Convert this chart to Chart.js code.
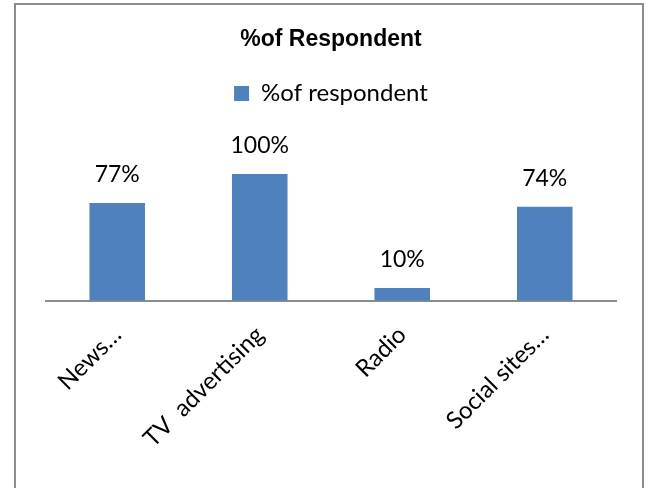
<!DOCTYPE html>
<html>
<head>
<meta charset="utf-8">
<script src="https://cdn.jsdelivr.net/npm/chart.js@4"></script>
<style>
  html, body { margin: 0; padding: 0; background: #fff; }
  #wrap { width: 648px; height: 488px; position: relative; }
</style>
</head>
<body>
<div id="wrap"><canvas id="c" width="648" height="488"></canvas></div>
<script>
const categories = ["News…", "TV  advertising", "Radio", "Social sites…"];
const respondentPct = [77, 100, 10, 74];
const seriesName = "%of respondent";
const chartTitle = "%of Respondent";

// Grey frame around the whole chart
const framePlugin = {
  id: 'frame',
  beforeDraw(chart) {
    const ctx = chart.ctx;
    ctx.save();
    ctx.strokeStyle = '#8c8c8c';
    ctx.lineWidth = 2;
    ctx.strokeRect(15, 4, 628, 500);
    ctx.restore();
  }
};

// Value labels above each bar
const valueLabels = {
  id: 'valueLabels',
  afterDatasetsDraw(chart) {
    const ctx = chart.ctx;
    const meta = chart.getDatasetMeta(0);
    ctx.save();
    ctx.font = '23px Lato';
    ctx.fillStyle = '#000';
    ctx.textAlign = 'center';
    ctx.textBaseline = 'middle';
    meta.data.forEach((bar, i) => {
      ctx.fillText(respondentPct[i] + '%', bar.x, bar.y - 28);
    });
    ctx.restore();
  }
};

new Chart(document.getElementById('c'), {
  type: 'bar',
  data: {
    labels: categories,
    datasets: [{
      label: seriesName,
      data: respondentPct,
      backgroundColor: '#4F81BD',
      borderWidth: 0,
      barPercentage: 0.39,
      categoryPercentage: 1.0
    }]
  },
  options: {
    responsive: false,
    animation: false,
    layout: { padding: { top: 5, left: 46, right: 32, bottom: 23 } },
    plugins: {
      title: {
        display: true,
        text: chartTitle,
        color: '#000',
        font: { family: 'Liberation Sans', size: 23, weight: 'bold' },
        padding: { top: 21, bottom: 18 }
      },
      legend: {
        display: true,
        labels: {
          color: '#000',
          font: { family: 'Lato', size: 24 },
          boxWidth: 15,
          boxHeight: 15,
          padding: 10
        }
      },
      tooltip: { enabled: false }
    },
    scales: {
      x: {
        grid: { display: false },
        border: { display: true, color: '#8c8c8c', width: 2 },
        ticks: {
          color: '#000',
          font: { family: 'Lato', size: 24 },
          minRotation: 45,
          maxRotation: 45,
          padding: 12
        }
      },
      y: {
        display: false,
        min: 0,
        max: 146
      }
    }
  },
  plugins: [framePlugin, valueLabels]
});
</script>
</body>
</html>
